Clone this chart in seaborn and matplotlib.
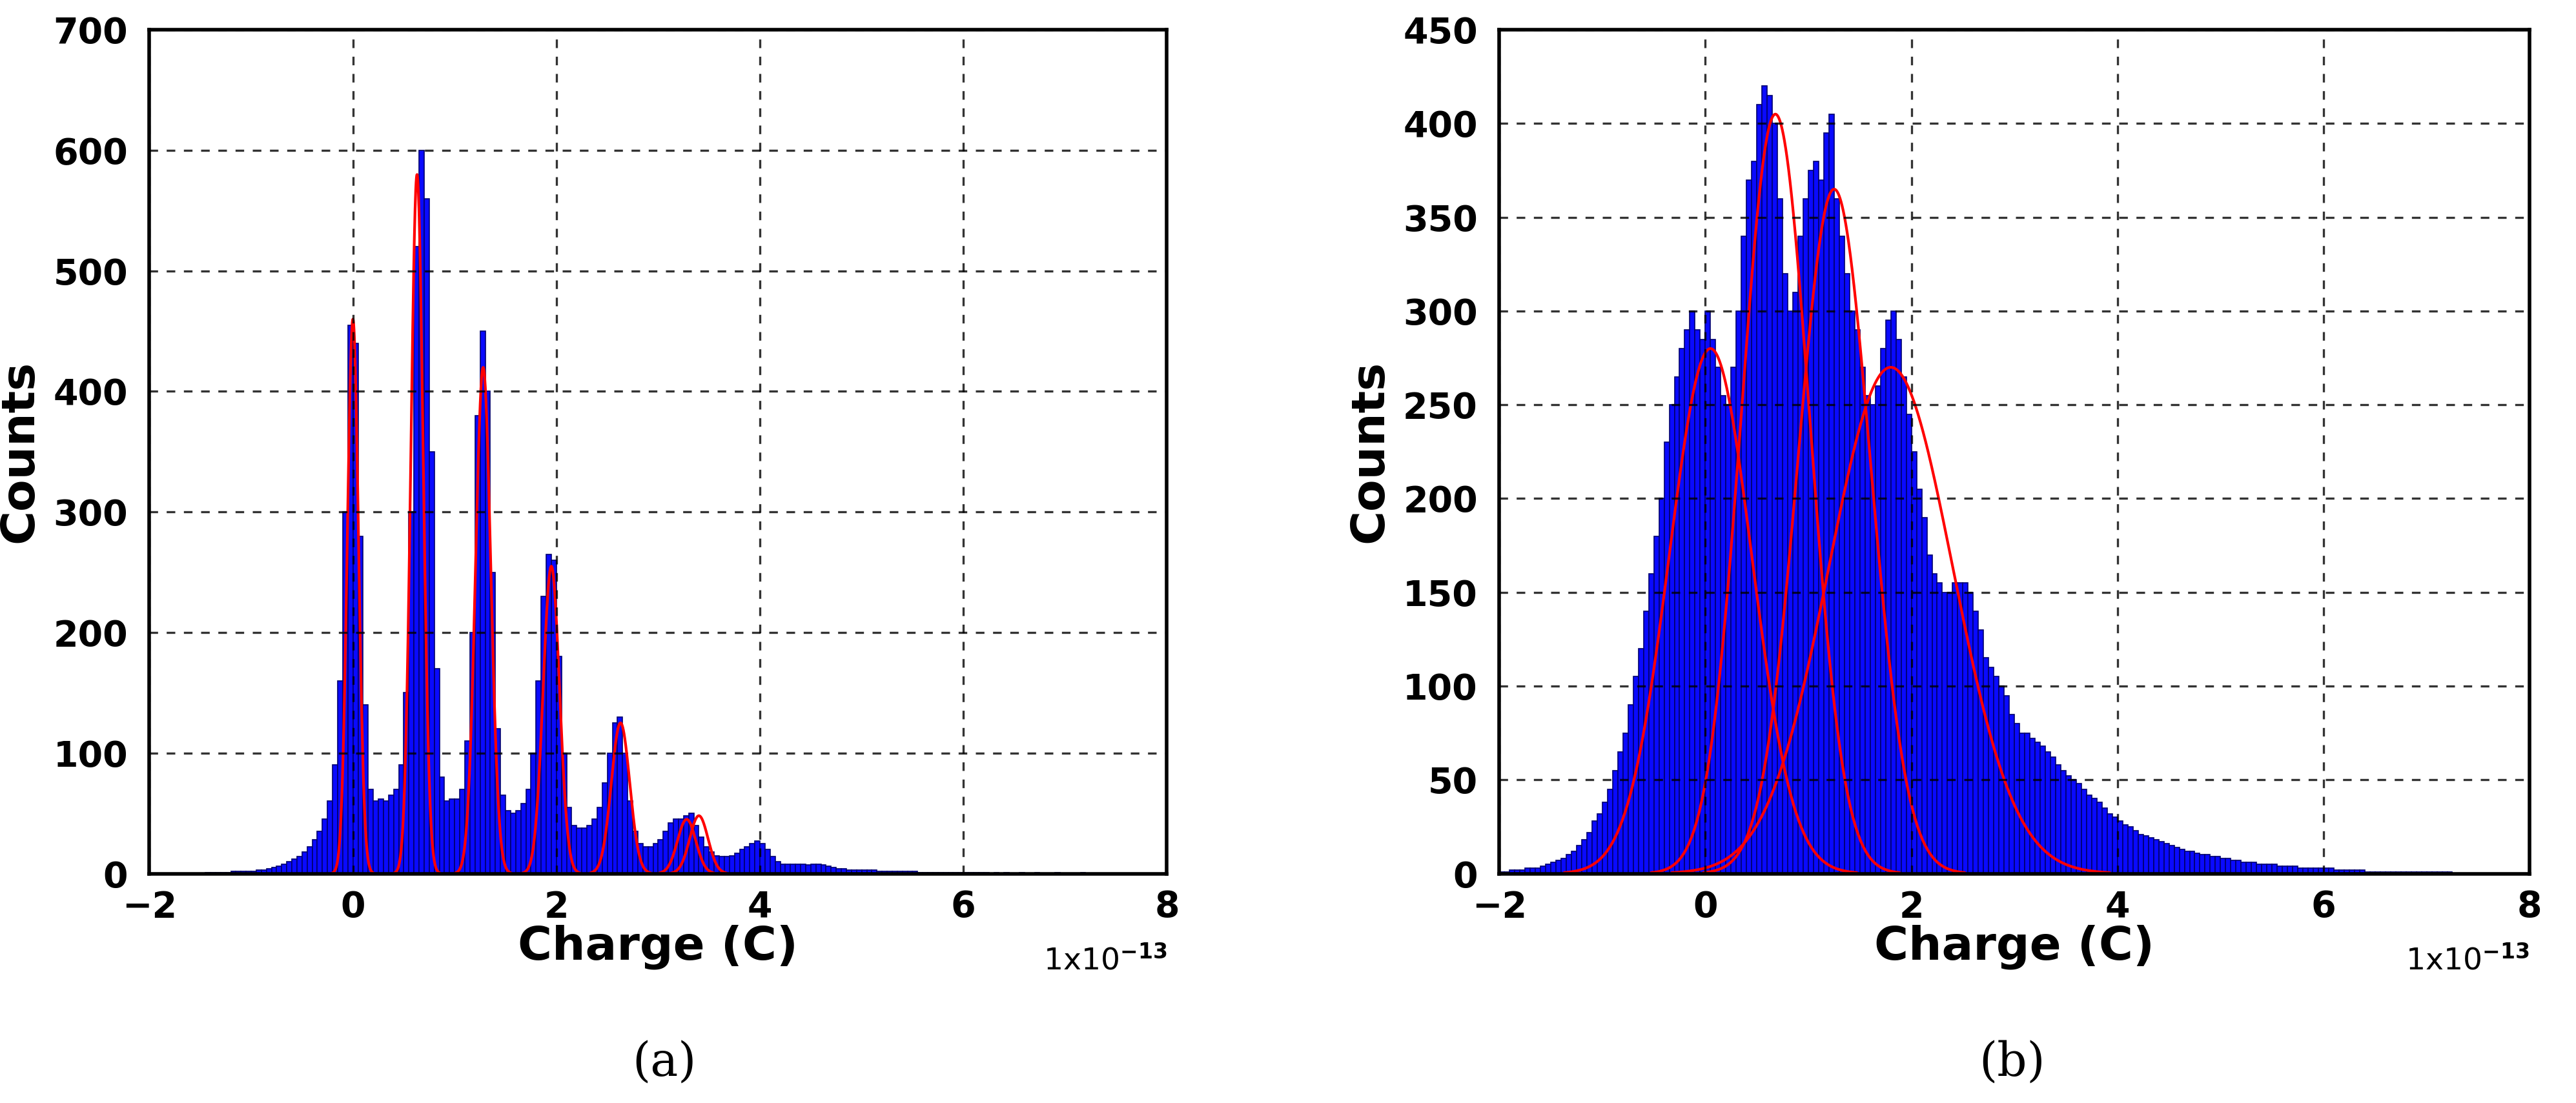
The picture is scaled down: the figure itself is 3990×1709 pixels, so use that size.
import numpy as np
import matplotlib
matplotlib.use("Agg")
import matplotlib.pyplot as plt
import seaborn as sns

sns.set_style("white")
plt.rcParams['font.family'] = ['DejaVu Sans']
plt.rcParams['font.weight'] = 'bold'
plt.rcParams['text.color'] = 'black'
plt.rcParams['axes.labelcolor'] = 'black'
plt.rcParams['xtick.color'] = 'black'
plt.rcParams['ytick.color'] = 'black'

# bin counts, bin width 0.05 (units of 1e-13 C)
a_start = -1.5
a_counts = [
    0, 1, 1, 1, 1, 1, 2, 2, 2, 2,
    2, 3, 3, 4, 5, 6, 8, 10, 12, 14,
    18, 22, 28, 35, 45, 60, 90, 160, 300, 455,
    440, 280, 140, 70, 60, 62, 60, 65, 70, 90,
    150, 300, 520, 600, 560, 350, 170, 80, 60, 62,
    62, 70, 110, 200, 380, 450, 400, 250, 120, 65,
    52, 50, 52, 58, 70, 100, 160, 230, 265, 260,
    180, 100, 55, 40, 38, 38, 40, 45, 55, 75,
    100, 125, 130, 100, 60, 35, 25, 22, 22, 25,
    28, 35, 42, 45, 45, 48, 50, 40, 30, 22,
    18, 15, 14, 14, 15, 17, 20, 22, 25, 27,
    25, 20, 14, 10, 8, 8, 8, 8, 8, 7,
    8, 8, 7, 6, 5, 4, 4, 3, 3, 3,
    3, 3, 3, 2, 2, 2, 2, 2, 2, 2,
    2, 1, 1, 1, 1, 1, 1, 1, 1, 1,
    1, 1, 1, 1, 1, 0, 1, 0, 1, 0,
    0, 1, 0, 0, 1, 0, 0, 0, 1, 0,
    0, 0, 0, 1, 0, 0, 0, 0, 0, 0,
]
b_start = -2.0
b_counts = [
    1, 1, 2, 2, 2, 3, 3, 3, 4, 5,
    6, 7, 8, 10, 12, 15, 18, 22, 28, 32,
    38, 45, 55, 65, 75, 90, 105, 120, 140, 160,
    180, 200, 230, 250, 265, 280, 290, 300, 290, 285,
    300, 285, 270, 255, 250, 270, 300, 340, 370, 380,
    410, 420, 415, 400, 360, 320, 300, 310, 340, 360,
    375, 380, 370, 395, 405, 360, 340, 320, 300, 290,
    270, 255, 250, 260, 280, 295, 300, 285, 265, 245,
    225, 205, 190, 170, 160, 155, 150, 150, 155, 155,
    155, 150, 140, 130, 115, 110, 105, 100, 95, 85,
    80, 75, 75, 72, 70, 68, 65, 62, 58, 55,
    52, 50, 48, 45, 42, 40, 38, 35, 32, 30,
    28, 26, 25, 23, 21, 20, 19, 18, 17, 16,
    15, 14, 13, 12, 12, 11, 10, 10, 9, 9,
    8, 8, 7, 7, 6, 6, 6, 5, 5, 5,
    5, 4, 4, 4, 4, 3, 3, 3, 3, 3,
    3, 3, 2, 2, 2, 2, 2, 2, 1, 1,
    1, 1, 1, 1, 1, 1, 1, 1, 1, 1,
    1, 1, 1, 1, 1, 0, 0, 0, 0, 0,
]
bin_width = 0.05

# gaussian fit parameters: mean, amplitude, sigma
a_fit_mu = [0.0, 0.63, 1.28, 1.95, 2.63, 3.28, 3.40]
a_fit_amp = [460, 580, 420, 255, 125, 45, 48]
a_fit_sig = [0.055, 0.06, 0.075, 0.08, 0.09, 0.09, 0.09]
b_fit_mu = [0.05, 0.68, 1.25, 1.8]
b_fit_amp = [280, 405, 365, 270]
b_fit_sig = [0.40, 0.33, 0.35, 0.60]

fig = plt.figure(figsize=(19.95, 8.545), dpi=200)
ax_a = fig.add_axes([0.058, 0.208, 0.395, 0.765])
ax_b = fig.add_axes([0.582, 0.208, 0.400, 0.765])


def draw(ax, start, counts, mus, amps, sigs, ymax, ystep):
    counts = np.array(counts, dtype=float)
    n = len(counts)
    centers = start + bin_width * (np.arange(n) + 0.5)
    sns.histplot(x=list(centers), weights=list(counts), binwidth=bin_width,
                 binrange=(start, start + n * bin_width), ax=ax,
                 color="#0a0aff", edgecolor="#000070", linewidth=0.6, alpha=1)
    xs = np.linspace(-2, 8, 3000)
    for mu, amp, sig in zip(mus, amps, sigs):
        ys = amp * np.exp(-0.5 * ((xs - mu) / sig) ** 2)
        m = ys > 0.5
        ax.plot(xs[m], ys[m], color="red", lw=1.5)
    ax.set_xlim(-2, 8)
    ax.set_ylim(0, ymax)
    ax.set_xticks(range(-2, 9, 2))
    ax.set_yticks(range(0, ymax + 1, ystep))
    ax.grid(True, color="black", linestyle=(0, (4, 4)), lw=1.2, alpha=0.8)
    ax.set_axisbelow(False)
    for s in ax.spines.values():
        s.set_color("black")
        s.set_linewidth(2)
    ax.tick_params(labelsize=20, direction="in", length=6)
    ax.tick_params(axis="x", pad=9)
    ax.tick_params(axis="y", pad=12)
    for t in ax.get_xticklabels() + ax.get_yticklabels():
        t.set_fontweight("bold")
    ax.set_xlabel("Charge (C)", fontsize=26, fontweight="bold", labelpad=0)
    ax.set_ylabel("Counts", fontsize=26, fontweight="bold", labelpad=6)
    ax.text(1.0, -0.085, r"1x10$^{-13}$", transform=ax.transAxes,
            ha="right", va="top", fontsize=17, fontweight="normal")


draw(ax_a, a_start, a_counts, a_fit_mu, a_fit_amp, a_fit_sig, 700, 100)
draw(ax_b, b_start, b_counts, b_fit_mu, b_fit_amp, b_fit_sig, 450, 50)

fig.text(0.258, 0.025, "(a)", ha="center", fontsize=26, family="DejaVu Serif", fontweight="normal")
fig.text(0.781, 0.025, "(b)", ha="center", fontsize=26, family="DejaVu Serif", fontweight="normal")

fig.savefig("out.png", dpi=200)
